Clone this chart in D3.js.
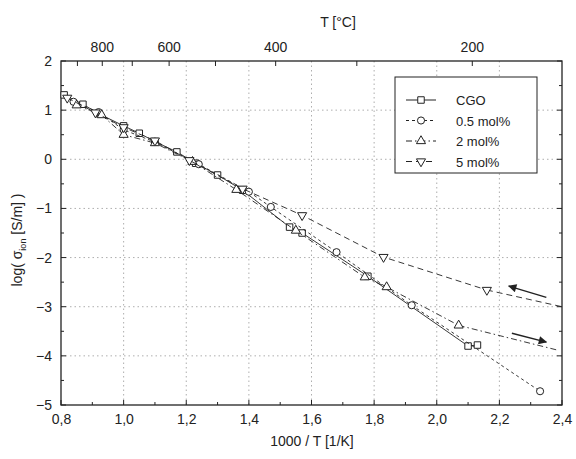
<!DOCTYPE html>
<html>
<head>
<meta charset="utf-8">
<script src="https://cdn.jsdelivr.net/npm/d3@7"></script>
<style>
  body { margin: 0; background: #fff; }
  svg text { font-family: "Liberation Sans", Arial, sans-serif; fill: #222; }
</style>
</head>
<body>
<svg id="chart" width="576" height="459"></svg>
<script>
// ========== Data ==========
const xTicks = [0.8, 1.0, 1.2, 1.4, 1.6, 1.8, 2.0, 2.2, 2.4];
const yTicks = [-5, -4, -3, -2, -1, 0, 1, 2];
const topTempTicks = [900, 800, 700, 600, 500, 400, 300, 200];
const topTempLabels = [800, 600, 400, 200];

const cgoX = [0.81, 0.87, 0.92, 1.00, 1.05, 1.10, 1.17, 1.23, 1.30, 1.38, 1.53, 1.57, 1.78, 2.10, 2.13];
const cgoY = [1.31, 1.12, 0.93, 0.68, 0.53, 0.36, 0.15, -0.08, -0.32, -0.63, -1.38, -1.50, -2.38, -3.80, -3.78];

const mol05X = [0.84, 0.92, 1.00, 1.10, 1.24, 1.40, 1.47, 1.68, 1.92, 2.33];
const mol05Y = [1.17, 0.96, 0.60, 0.35, -0.10, -0.66, -0.97, -1.89, -2.97, -4.72];

const mol2X = [0.85, 0.93, 1.00, 1.10, 1.22, 1.36, 1.55, 1.77, 1.84, 2.07];
const mol2Y = [1.10, 0.90, 0.50, 0.33, -0.05, -0.62, -1.45, -2.40, -2.60, -3.38];
const fit2X = [2.07, 2.39];
const fit2Y = [-3.38, -3.89];

const mol5X = [0.82, 0.91, 1.00, 1.10, 1.21, 1.38, 1.57, 1.83, 2.16];
const mol5Y = [1.25, 0.95, 0.65, 0.38, -0.02, -0.60, -1.14, -1.99, -2.66];
const fit5X = [2.16, 2.40];
const fit5Y = [-2.66, -3.00];

// annotation arrows [x1, y1, x2, y2] in data units, arrow head at (x2, y2)
const arrowUpper = [2.35, -2.81, 2.23, -2.58];
const arrowLower = [2.24, -3.54, 2.35, -3.72];

// ========== Config ==========
const config = {
  left: 61, right: 562, top: 61, bottom: 405,
  ink: '#222'
};

const svg = d3.select('#chart');

const x = d3.scaleLinear().domain([0.8, 2.4]).range([config.left, config.right]);
const y = d3.scaleLinear().domain([-5, 2]).range([config.bottom, config.top]);
const tempToX = t => x(1000 / (t + 273.15));
const comma = d => d3.format('.1f')(d).replace('.', ',');

// ========== Grid ==========
const grid = svg.append('g')
  .attr('stroke', '#999')
  .attr('stroke-width', 0.8)
  .attr('stroke-dasharray', '1.5,3');

grid.selectAll('.gx')
  .data(xTicks.slice(1, -1))
  .join('line')
    .attr('x1', d => x(d)).attr('x2', d => x(d))
    .attr('y1', config.top).attr('y2', config.bottom);

grid.selectAll('.gy')
  .data(yTicks.slice(1, -1))
  .join('line')
    .attr('y1', d => y(d)).attr('y2', d => y(d))
    .attr('x1', config.left).attr('x2', config.right);

// ========== Axes ==========
const minorX = d3.range(0.8, 2.401, 0.1);
const minorY = d3.range(-5, 2.001, 0.5);

svg.append('g')
  .attr('transform', `translate(0,${config.bottom})`)
  .call(d3.axisBottom(x).tickValues(xTicks).tickFormat(comma).tickSize(0).tickPadding(9))
  .call(g => g.select('.domain').remove())
  .call(g => g.selectAll('text').attr('font-size', 14));

svg.append('g')
  .attr('transform', `translate(${config.left},0)`)
  .call(d3.axisLeft(y).tickValues(yTicks).tickFormat(d3.format('d')).tickSize(0).tickPadding(9))
  .call(g => g.select('.domain').remove())
  .call(g => g.selectAll('text').attr('font-size', 14));

// inward ticks on all four sides
const ticks = svg.append('g').attr('stroke', config.ink).attr('stroke-width', 1);
ticks.selectAll('.tb').data(minorX).join('line')
  .attr('x1', d => x(d)).attr('x2', d => x(d))
  .attr('y1', config.bottom).attr('y2', (d, i) => config.bottom - (i % 2 ? 3 : 5));
ticks.selectAll('.tl').data(minorY).join('line')
  .attr('y1', d => y(d)).attr('y2', d => y(d))
  .attr('x1', config.left).attr('x2', (d, i) => config.left + (i % 2 ? 3 : 5));
ticks.selectAll('.tr').data(minorY).join('line')
  .attr('y1', d => y(d)).attr('y2', d => y(d))
  .attr('x1', config.right).attr('x2', (d, i) => config.right - (i % 2 ? 3 : 5));
ticks.selectAll('.tt').data(topTempTicks).join('line')
  .attr('x1', d => tempToX(d)).attr('x2', d => tempToX(d))
  .attr('y1', config.top).attr('y2', config.top + 5);

// top temperature labels
svg.append('g').selectAll('text')
  .data(topTempLabels)
  .join('text')
    .attr('x', d => tempToX(d))
    .attr('y', config.top - 9)
    .attr('text-anchor', 'middle')
    .attr('font-size', 14)
    .text(d => d);

// frame
svg.append('rect')
  .attr('x', config.left).attr('y', config.top)
  .attr('width', config.right - config.left)
  .attr('height', config.bottom - config.top)
  .attr('fill', 'none')
  .attr('stroke', config.ink)
  .attr('stroke-width', 1.3);

// ========== Axis Titles ==========
svg.append('text')
  .attr('x', 312).attr('y', 446)
  .attr('text-anchor', 'middle')
  .attr('font-size', 14)
  .text('1000 / T [1/K]');

svg.append('text')
  .attr('x', 338).attr('y', 27)
  .attr('text-anchor', 'middle')
  .attr('font-size', 14)
  .text('T [°C]');

const yTitle = svg.append('text')
  .attr('transform', 'translate(22,240) rotate(-90)')
  .attr('text-anchor', 'middle')
  .attr('font-size', 14);
yTitle.append('tspan').text('log(\u00a0σ');
yTitle.append('tspan').attr('font-size', 9).attr('dy', 4).text('ion');
yTitle.append('tspan').attr('dy', -4).text('\u00a0[S/m]\u00a0)');

// ========== Series ==========
const series = [
  {name: 'CGO', xs: cgoX, ys: cgoY, dash: null, symbol: d3.symbolSquare, rot: 0},
  {name: '0.5 mol%', xs: mol05X, ys: mol05Y, dash: '3,3', symbol: d3.symbolCircle, rot: 0},
  {name: '2 mol%', xs: mol2X, ys: mol2Y, dash: '6,3,1.5,3', symbol: d3.symbolTriangle, rot: 0,
    fitX: fit2X, fitY: fit2Y},
  {name: '5 mol%', xs: mol5X, ys: mol5Y, dash: '6,4', symbol: d3.symbolTriangle, rot: 180,
    fitX: fit5X, fitY: fit5Y}
];

const line = d3.line().x(d => x(d[0])).y(d => y(d[1]));
const symbolSize = {0: 42, 1: 40, 2: 36, 3: 36};

series.forEach((s, si) => {
  const pts = s.xs.map((v, i) => [v, s.ys[i]]);
  svg.append('path')
    .datum(pts)
    .attr('d', line)
    .attr('fill', 'none')
    .attr('stroke', config.ink)
    .attr('stroke-width', 0.9)
    .attr('stroke-dasharray', s.dash);

  if (s.fitX) {
    svg.append('path')
      .datum(s.fitX.map((v, i) => [v, s.fitY[i]]))
      .attr('d', line)
      .attr('fill', 'none')
      .attr('stroke', config.ink)
      .attr('stroke-width', 0.9)
      .attr('stroke-dasharray', s.dash);
  }

  svg.append('g').selectAll('path')
    .data(pts)
    .join('path')
      .attr('transform', d => `translate(${x(d[0])},${y(d[1])}) rotate(${s.rot})`)
      .attr('d', d3.symbol().type(s.symbol).size(symbolSize[si]))
      .attr('fill', '#fff')
      .attr('stroke', config.ink)
      .attr('stroke-width', 1);
});

// ========== Arrows ==========
svg.append('defs').append('marker')
  .attr('id', 'head')
  .attr('viewBox', '0 0 10 10')
  .attr('refX', 9).attr('refY', 5)
  .attr('markerWidth', 9).attr('markerHeight', 6)
  .attr('orient', 'auto')
  .append('path')
    .attr('d', 'M0,0 L10,5 L0,10 z')
    .attr('fill', config.ink);

[arrowUpper, arrowLower].forEach(a => {
  svg.append('line')
    .attr('x1', x(a[0])).attr('y1', y(a[1]))
    .attr('x2', x(a[2])).attr('y2', y(a[3]))
    .attr('stroke', config.ink)
    .attr('stroke-width', 1.4)
    .attr('marker-end', 'url(#head)');
});

// ========== Legend ==========
const legend = svg.append('g');
legend.append('rect')
  .attr('x', 395).attr('y', 77)
  .attr('width', 142).attr('height', 96)
  .attr('fill', '#fff')
  .attr('stroke', config.ink)
  .attr('stroke-width', 1);

series.forEach((s, i) => {
  const ly = 100 + i * 20.5;
  legend.append('line')
    .attr('x1', 406).attr('x2', 436)
    .attr('y1', ly).attr('y2', ly)
    .attr('stroke', config.ink)
    .attr('stroke-width', 1)
    .attr('stroke-dasharray', s.dash);
  legend.append('path')
    .attr('transform', `translate(421,${ly}) rotate(${s.rot})`)
    .attr('d', d3.symbol().type(s.symbol).size(symbolSize[i]))
    .attr('fill', '#fff')
    .attr('stroke', config.ink);
  legend.append('text')
    .attr('x', 456).attr('y', ly + 5)
    .attr('font-size', 13)
    .text(s.name);
});
</script>
</body>
</html>
